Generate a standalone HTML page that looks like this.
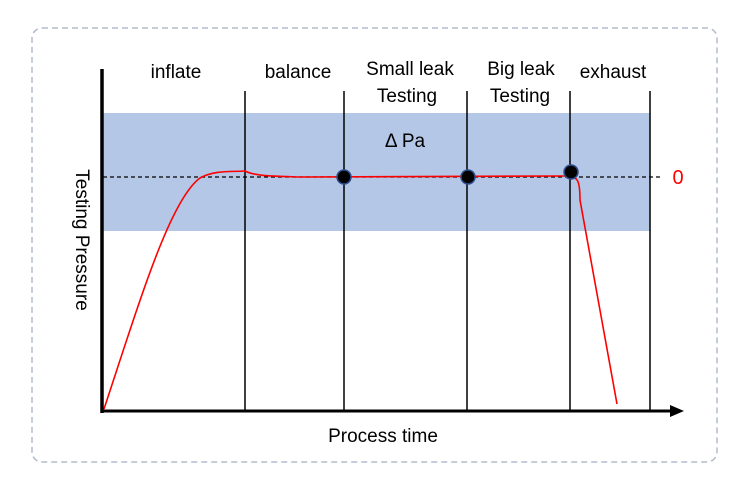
<!DOCTYPE html>
<html><head><style>body{margin:0;background:#fff}</style></head><body>
<svg width="750" height="494" xmlns="http://www.w3.org/2000/svg" font-family="Liberation Sans, sans-serif">
<rect x="32" y="28" width="685" height="434" rx="10" fill="none" stroke="#b4bccb" stroke-width="1.5" stroke-dasharray="6,4"/>
<rect x="103" y="113" width="547" height="118" fill="#b4c7e7"/>
<g stroke="#000" stroke-width="1.5">
<line x1="245" y1="91" x2="245" y2="411"/>
<line x1="344" y1="91" x2="344" y2="411"/>
<line x1="467" y1="91" x2="467" y2="411"/>
<line x1="570" y1="91" x2="570" y2="411"/>
<line x1="650" y1="91" x2="650" y2="411"/>
</g>
<line x1="103" y1="177" x2="662" y2="177" stroke="#000" stroke-width="1.2" stroke-dasharray="4,3"/>
<path d="M104,409 C140,300 170,200 200,178 C215,170 230,172 245,171 C255,176 270,176 300,177 L565,176 C578,176 580,180 580,200 L617,404" fill="none" stroke="#f00" stroke-width="1.6"/>
<g fill="#000" stroke="#2f4f8f" stroke-width="1.5">
<circle cx="344" cy="177" r="7"/><circle cx="468" cy="177" r="7"/><circle cx="571" cy="172" r="7"/>
</g>
<line x1="102" y1="69" x2="102" y2="413" stroke="#000" stroke-width="3.5"/>
<line x1="101" y1="411" x2="672" y2="411" stroke="#000" stroke-width="3"/>
<polygon points="684,411 670,405 670,417" fill="#000"/>
<g font-size="19" fill="#000" text-anchor="middle">
<text x="176" y="78">inflate</text>
<text x="298" y="78">balance</text>
<text x="410" y="75">Small leak</text>
<text x="407" y="102">Testing</text>
<text x="521" y="75">Big leak</text>
<text x="520" y="102">Testing</text>
<text x="613" y="78">exhaust</text>
<text x="405" y="147">Δ Pa</text>
<text x="383" y="442">Process time</text>
<text transform="translate(76,240) rotate(90)">Testing Pressure</text>
</g>
<text x="678" y="184" font-size="20" fill="#f00" text-anchor="middle">0</text>
</svg>
</body></html>
